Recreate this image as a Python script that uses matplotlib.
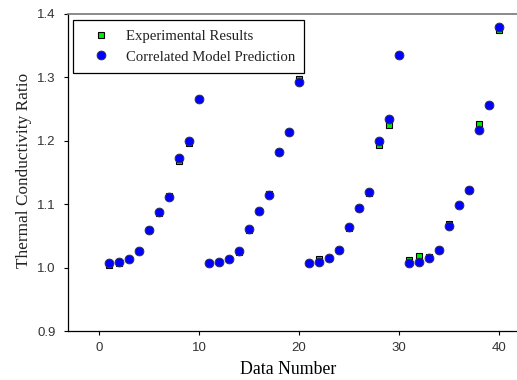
import numpy as np
import matplotlib
matplotlib.use('Agg')
import matplotlib.pyplot as plt

# data
data_number = np.arange(1, 41)

experimental = [1.004, 1.007, 1.014, 1.026, 1.059, 1.086, 1.113, 1.168, 1.197, 1.266,
                1.007, 1.0095, 1.014, 1.025, 1.060, 1.089, 1.116, 1.183, 1.214, 1.297,
                1.007, 1.013, 1.015, 1.027, 1.063, 1.094, 1.118, 1.1935, 1.225, 1.336,
                1.012, 1.018, 1.017, 1.028, 1.0695, 1.098, 1.122, 1.226, 1.256, 1.375]

model = [1.007, 1.0095, 1.014, 1.026, 1.059, 1.088, 1.112, 1.1725, 1.200, 1.2656,
         1.007, 1.0095, 1.014, 1.026, 1.0605, 1.090, 1.114, 1.1825, 1.214, 1.292,
         1.007, 1.0095, 1.015, 1.027, 1.0637, 1.094, 1.119, 1.1997, 1.2345, 1.3355,
         1.007, 1.0095, 1.015, 1.028, 1.066, 1.098, 1.1225, 1.217, 1.256, 1.379]

xticks = [0, 10, 20, 30, 40]
yticks = [0.9, 1.0, 1.1, 1.2, 1.3, 1.4]

W, H = 517, 380
fig = plt.figure(figsize=(W / 100, H / 100), dpi=100)
# axes runs past the right edge like in the (cropped) original
ax = fig.add_axes([68.3 / W, 49 / H, (520 - 68.3) / W, 317 / H])

ax.plot(data_number, experimental, 's', ms=5.0, mfc='#00ee00', mec='black', mew=0.8,
        ls='none', label='Experimental Results', zorder=3)
ax.plot(data_number, model, 'o', ms=6.3, mfc='#0000ff', mec='#303048', mew=0.7,
        ls='none', label='Correlated Model Prediction', zorder=4)

ax.set_xlim(-3.1, 42.1)
ax.set_ylim(0.9, 1.4)
ax.set_xticks(xticks)
ax.set_yticks(yticks)
ax.set_yticklabels(['%.1f' % v for v in yticks])

ax.tick_params(direction='out', length=3, width=0.8, colors='black',
               labelcolor='#333333', labelsize=9.5)
ax.tick_params(axis='x', pad=5)
ax.tick_params(axis='y', pad=6)
for lab in ax.get_xticklabels() + ax.get_yticklabels():
    lab.set_family('Liberation Sans')

ax.spines['right'].set_visible(False)
ax.spines['top'].set_color('#777777')
ax.spines['top'].set_linewidth(1.2)
ax.spines['left'].set_linewidth(0.9)
ax.spines['bottom'].set_linewidth(0.9)

ax.set_xlabel('Data Number', family='Liberation Serif', fontsize=12.8, va='center')
ax.xaxis.set_label_coords(0.486, -0.12)
ax.set_ylabel('Thermal Conductivity Ratio', family='Liberation Serif', fontsize=12.4,
              va='center', color='#222222')
ax.yaxis.set_label_coords(-0.099, 0.508)

leg = ax.legend(loc='upper left', bbox_to_anchor=(0.011, 0.981),
                prop={'family': 'Liberation Serif', 'size': 10.6},
                frameon=True, fancybox=False, edgecolor='black', framealpha=1,
                borderpad=0.65, handletextpad=0.4, labelspacing=0.5,
                handlelength=2.5, borderaxespad=0)
leg.get_frame().set_linewidth(0.9)
for t in leg.get_texts():
    t.set_color('#222222')

fig.savefig('out.png', dpi=100)
